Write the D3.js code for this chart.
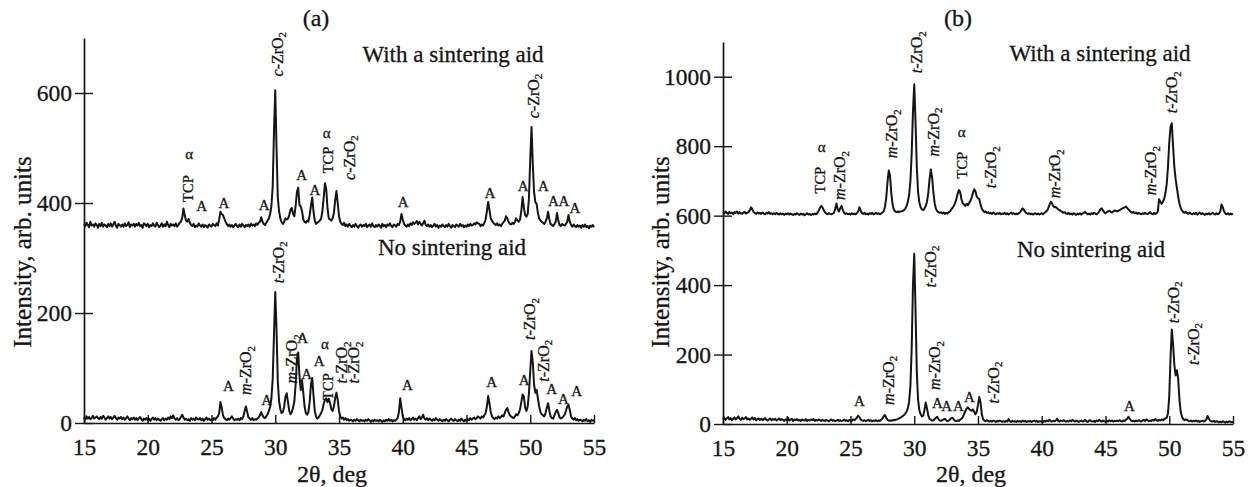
<!DOCTYPE html>
<html>
<head>
<meta charset="utf-8">
<script src="https://cdn.jsdelivr.net/npm/d3@7"></script>
<style>
  body { margin: 0; background: #fff; }
  svg { display: block; }
  svg text { font-family: "Liberation Serif", "Times New Roman", serif !important; fill: #151515;
             stroke: #151515; stroke-width: 0.3px; }
</style>
</head>
<body>
<svg id="chart" width="1251" height="487"></svg>
<script>
// Scan grid: 2θ from 15° to 55° in 0.1° steps
const thetaStart = 15, thetaStep = 0.1;
const xTicks = [15, 20, 25, 30, 35, 40, 45, 50, 55];
const yTicksA = [0, 200, 400, 600];
const yTicksB = [0, 200, 400, 600, 800, 1000];

// (a) with a sintering aid (offset pattern)
const withAidA = [
  362,358,364,360,356,366,359,361,357,363,
  360,355,362,358,364,357,361,359,356,362,
  358,363,357,361,366,359,355,362,360,357,
  361,357,363,358,360,365,356,361,359,362,
  357,362,359,364,358,360,355,363,361,358,
  362,356,360,358,363,359,357,364,360,356,
  359,363,357,361,358,366,360,356,362,359,
  361,358,363,357,360,364,366,372,390,378,
  368,366,371,364,360,358,362,356,359,357,
  363,359,357,361,356,360,358,355,361,359,
  357,362,360,358,363,359,370,384,380,378,
  372,366,362,358,361,357,360,356,359,362,
  358,356,361,357,362,359,356,360,358,361,
  357,362,359,361,358,363,360,364,366,374,
  366,362,360,364,368,372,380,395,430,530,
  605,500,410,385,372,365,362,366,372,370,
  372,378,388,391,380,376,395,420,428,396,
  394,385,370,366,364,368,366,378,395,410,
  385,368,362,364,366,368,372,385,410,436,
  425,390,372,370,368,372,382,405,422,400,
  376,366,362,360,364,358,361,357,362,359,
  356,360,357,362,358,355,359,361,357,360,
  358,362,356,359,361,357,363,358,356,360,
  357,361,359,355,362,358,360,356,361,359,
  363,358,356,361,359,357,362,360,366,380,
  370,362,359,357,361,358,363,360,365,362,
  364,367,361,366,362,359,363,368,360,358,
  361,357,360,356,359,362,357,360,355,359,
  357,361,358,356,360,357,362,358,355,360,
  358,356,361,359,357,362,358,360,356,359,
  357,361,358,362,359,360,363,361,365,363,
  362,358,361,359,364,370,385,402,388,372,
  368,364,362,360,363,359,361,358,362,365,
  368,376,372,366,362,361,364,362,366,372,
  368,366,370,385,411,392,378,375,380,410,
  480,538,470,420,402,398,382,372,368,366,
  364,362,366,372,384,370,362,360,358,362,
  366,382,368,360,358,362,360,359,362,366,
  378,366,360,357,361,358,356,360,357,359,
  355,360,357,361,356,358,354,359,357,360,
  356
];

// (a) no sintering aid
const noAidA = [
  10,6,12,8,11,7,9,13,8,10,
  12,9,7,11,8,13,10,6,9,12,
  8,11,7,10,13,9,6,10,8,11,
  7,10,6,9,12,8,5,9,7,10,
  6,9,5,8,11,7,4,8,6,9,
  5,8,4,7,10,6,9,5,8,6,
  4,7,9,5,8,6,10,7,12,9,
  14,8,6,9,5,7,11,15,10,6,
  8,5,7,4,9,6,8,5,10,7,
  6,9,5,8,4,7,10,6,8,5,
  7,5,9,6,10,12,18,38,28,14,
  9,7,5,8,6,9,12,8,5,7,
  6,8,5,9,7,12,22,30,20,10,
  8,6,9,5,7,6,8,10,14,20,
  14,10,9,12,16,22,30,45,80,160,
  238,170,75,40,25,18,20,30,48,54,
  38,22,16,20,28,40,70,115,128,85,
  60,78,55,30,18,15,20,38,70,82,
  50,22,12,8,10,14,18,24,35,42,
  45,38,44,36,25,22,30,45,55,42,
  22,12,8,10,6,9,5,7,4,6,
  5,3,6,4,7,5,3,6,4,5,
  3,6,4,7,5,2,5,3,6,4,
  5,3,6,4,2,5,3,6,4,7,
  4,6,3,5,4,6,9,20,45,28,
  12,7,5,8,6,9,5,7,10,6,
  8,5,9,12,7,10,15,8,6,9,
  5,8,6,4,7,5,9,6,4,7,
  5,3,6,4,7,5,3,6,8,5,
  4,7,5,3,6,4,8,5,3,6,
  4,7,5,9,6,8,10,7,9,12,
  10,8,12,10,14,18,30,49,36,20,
  12,9,7,10,8,12,9,11,14,12,
  18,24,27,20,14,12,10,9,12,16,
  14,18,25,38,52,48,28,22,30,55,
  95,131,110,70,55,60,45,30,20,16,
  14,12,18,28,36,22,12,9,8,14,
  20,24,18,10,8,10,12,15,22,30,
  33,24,12,8,6,9,5,7,4,6,
  5,3,6,4,7,3,5,2,6,4,
  5
];

// (b) with a sintering aid (offset pattern)
const withAidB = [
  610,606,612,608,605,611,607,609,604,610,
  608,612,606,610,607,605,609,611,606,608,
  610,615,624,618,611,607,605,609,606,608,
  605,609,606,604,608,606,610,605,607,604,
  607,604,608,605,603,607,604,606,602,606,
  604,607,603,606,604,602,605,603,607,604,
  602,606,603,605,601,604,607,603,605,602,
  605,603,606,604,608,614,622,628,624,616,
  610,606,604,607,605,604,606,608,620,635,
  618,612,622,628,616,608,605,607,604,606,
  603,607,604,606,604,607,612,624,614,607,
  605,608,604,606,603,607,605,608,604,606,
  608,605,607,604,606,609,612,625,650,695,
  730,715,665,632,618,612,610,612,610,612,
  612,614,616,620,628,640,660,700,780,900,
  978,870,740,668,638,624,618,616,620,628,
  640,665,705,733,710,668,636,620,613,610,
  608,610,606,609,605,608,606,610,612,618,
  622,628,636,648,662,674,668,648,636,632,
  628,634,630,636,642,652,665,676,670,655,
  650,648,632,620,614,610,612,608,610,606,
  608,605,609,606,604,607,605,608,604,606,
  605,608,604,607,603,606,609,605,607,604,
  606,604,607,610,616,621,617,611,607,605,
  607,604,606,603,605,607,604,606,603,605,
  607,604,608,610,614,620,630,640,636,628,
  624,625,621,618,616,613,611,608,610,606,
  605,608,604,606,603,607,605,602,606,604,
  607,603,606,608,611,607,604,606,603,607,
  605,608,606,604,607,612,618,621,615,610,
  607,610,612,614,611,609,612,615,614,612,
  614,616,618,620,622,624,626,622,618,614,
  610,608,611,607,609,605,608,606,604,607,
  605,608,606,604,607,610,606,604,608,605,
  606,612,647,640,634,640,648,665,690,740,
  810,855,866,800,740,705,680,655,635,622,
  615,610,608,611,607,605,609,606,604,607,
  605,608,603,606,609,604,607,605,602,606,
  604,607,603,606,608,605,603,607,604,606,
  612,632,624,612,606,604,607,603,606,604,
  605
];

// (b) no sintering aid
const noAidB = [
  14,18,12,16,20,13,17,11,15,19,
  13,17,22,15,12,18,14,16,20,13,
  16,12,15,19,13,17,11,14,16,12,
  15,11,14,17,12,10,13,16,11,14,
  12,15,10,13,16,11,14,12,9,13,
  11,18,10,12,15,9,13,11,14,10,
  12,9,13,11,10,14,9,12,10,13,
  11,14,9,12,10,13,11,9,12,10,
  9,12,10,8,11,13,9,11,8,10,
  12,9,11,8,10,13,9,11,8,12,
  10,9,13,11,14,18,24,20,13,10,
  9,11,8,10,12,9,11,8,10,9,
  11,8,10,9,12,15,22,26,18,12,
  10,9,11,10,12,11,13,14,16,18,
  20,23,26,30,36,46,65,110,220,400,
  490,330,150,70,40,28,22,24,40,62,
  45,25,15,12,10,11,14,18,21,14,
  10,9,11,13,15,11,8,10,13,17,
  18,13,9,8,10,9,12,15,20,28,
  36,44,48,44,40,38,42,36,28,35,
  55,78,62,28,14,10,8,11,9,7,
  9,7,10,8,6,9,7,10,8,6,
  8,6,9,7,14,8,6,9,7,8,
  6,9,7,8,6,10,7,9,6,8,
  7,9,6,8,10,7,9,6,8,7,
  8,6,9,7,10,8,12,9,7,9,
  8,10,15,9,7,10,8,11,9,7,
  9,7,10,8,12,9,7,10,8,6,
  8,10,7,9,12,8,6,9,11,8,
  7,9,6,10,8,12,9,7,10,8,
  6,9,7,11,8,10,7,9,8,10,
  8,11,9,7,10,9,12,15,21,15,
  10,8,9,7,10,8,11,9,7,10,
  12,9,13,11,8,10,9,12,10,14,
  11,9,12,10,13,11,14,16,18,30,
  80,190,272,230,170,140,155,130,70,35,
  20,14,11,13,12,9,8,10,7,9,
  8,10,7,9,6,8,10,7,9,12,
  23,16,10,8,7,9,6,8,7,5,
  7,5,8,6,4,7,5,8,6,5,
  6
];

// Phase labels: [2θ, intensity at label foot, text]
const labelsWithAidA = [
  [23.13, 402, "TCP"], [23.25, 480, "α"], [24.23, 385, "A"], [25.98, 391, "A"],
  [29.14, 387, "A"], [30.16, 630, "c-ZrO2"], [32.07, 442, "A"], [33.12, 415, "A"],
  [34.16, 454, "TCP"], [34.03, 518, "α"], [35.81, 442, "c-ZrO2"], [40.04, 393, "A"],
  [46.84, 409, "A"], [49.45, 422, "A"], [50.24, 554, "c-ZrO2"], [51.03, 422, "A"],
  [51.82, 395, "A"], [52.65, 395, "A"], [53.51, 382, "A"]
];
const labelsNoAidA = [
  [26.32, 58, "A"], [27.71, 51, "m-ZrO2"], [29.33, 33, "A"], [30.24, 254, "t-ZrO2"],
  [31.29, 72, "m-ZrO2"], [32.15, 145, "A"], [32.46, 80, "A"], [33.45, 104, "A"],
  [34.16, 42, "TCP"], [33.9, 135, "α"], [35.21, 72, "t-ZrO2"], [36.18, 72, "t-ZrO2"],
  [40.36, 60, "A"], [46.97, 65, "A"], [49.53, 69, "A"], [49.98, 151, "t-ZrO2"],
  [51.03, 75, "t-ZrO2"], [51.68, 53, "A"], [52.6, 35, "A"], [53.64, 49, "A"]
];
const labelsWithAidB = [
  [22.61, 664, "TCP"], [22.74, 783, "α"], [24.18, 645, "m-ZrO2"], [28.23, 765, "m-ZrO2"],
  [30.19, 1010, "t-ZrO2"], [31.5, 770, "m-ZrO2"], [33.72, 707, "TCP"], [33.72, 826, "α"],
  [36.0, 679, "t-ZrO2"], [41.04, 650, "m-ZrO2"], [48.55, 659, "m-ZrO2"], [50.19, 895, "t-ZrO2"]
];
const labelsNoAidB = [
  [25.69, 52, "A"], [27.96, 55, "m-ZrO2"], [31.24, 393, "t-ZrO2"], [31.63, 98, "m-ZrO2"],
  [31.81, 46, "A"], [32.55, 37, "A"], [33.46, 37, "A"], [34.32, 63, "A"],
  [36.2, 59, "t-ZrO2"], [46.87, 37, "A"], [50.32, 290, "t-ZrO2"], [51.89, 170, "t-ZrO2"]
];

const serif = "'Liberation Serif', 'Times New Roman', serif";
const svg = d3.select("#chart").attr("font-family", serif);
const ink = "#151515";

const panels = [
  { tag: "(a)", tagX: 316, left: 84, right: 594, top: 38, bottom: 423, yMax: 700, yTicks: yTicksA,
    series: [withAidA, noAidA], labels: [labelsWithAidA, labelsNoAidA],
    captionTop: [453, 62], captionBottom: [452, 255], titleX: 31 },
  { tag: "(b)", tagX: 958, left: 723, right: 1233, top: 42, bottom: 424, yMax: 1100, yTicks: yTicksB,
    series: [withAidB, noAidB], labels: [labelsWithAidB, labelsNoAidB],
    captionTop: [1100, 61], captionBottom: [1091, 257], titleX: 669 }
];

function drawLabel(g, x, y, d) {
  const [theta, v, txt] = d;
  const px = x(theta), py = y(v);
  const phase = /^([cmt])-ZrO2$/.exec(txt);
  if (phase || txt === "TCP") {
    const fs = phase ? 16 : 14.5;
    const t = g.append("text")
      .attr("font-size", fs)
      .attr("transform", `translate(${px + fs * 0.34},${py}) rotate(-90)`);
    if (phase) {
      t.append("tspan").attr("font-style", "italic").text(phase[1]);
      t.append("tspan").text("-ZrO");
      t.append("tspan").attr("font-size", fs * 0.68).attr("dy", fs * 0.22).text("2");
    } else {
      t.text(txt);
    }
  } else {
    g.append("text")
      .attr("x", px).attr("y", py)
      .attr("text-anchor", "middle")
      .attr("font-size", 15)
      .text(txt);
  }
}

panels.forEach(p => {
  const x = d3.scaleLinear().domain([15, 55]).range([p.left, p.right]);
  const y = d3.scaleLinear().domain([0, p.yMax]).range([p.bottom, p.top]);
  const g = svg.append("g");

  // Diffraction patterns
  const line = d3.line()
    .x((d, i) => x(thetaStart + i * thetaStep))
    .y(d => y(d));
  p.series.forEach(s => {
    g.append("path")
      .datum(s)
      .attr("d", line)
      .attr("fill", "none")
      .attr("stroke", ink)
      .attr("stroke-width", 2)
      .attr("stroke-linejoin", "round");
  });

  // Axes
  const xAxis = g.append("g").attr("transform", `translate(0,${p.bottom})`)
    .call(d3.axisBottom(x).tickValues(xTicks).tickFormat(d3.format("d"))
      .tickSizeInner(-8).tickSizeOuter(0).tickPadding(16));
  const yAxis = g.append("g").attr("transform", `translate(${p.left},0)`)
    .call(d3.axisLeft(y).tickValues(p.yTicks).tickFormat(d3.format("d"))
      .tickSizeOuter(0).tickSize(0).tickPadding(12));
  yAxis.selectAll(".tick").append("line")
    .attr("x1", -9).attr("x2", 9);
  [xAxis, yAxis].forEach(a => {
    a.attr("font-family", serif);
    a.select(".domain").attr("stroke", ink).attr("stroke-width", 1.7);
    a.selectAll(".tick line").attr("stroke", ink).attr("stroke-width", 1.4);
    a.selectAll(".tick text").attr("font-size", 23.5).attr("fill", ink);
  });
  xAxis.selectAll(".tick text").attr("dy", "0.68em");

  // Titles
  g.append("text")
    .attr("x", p.tagX).attr("y", 26)
    .attr("text-anchor", "middle").attr("font-size", 24)
    .text(p.tag);
  g.append("text")
    .attr("x", p.captionTop[0]).attr("y", p.captionTop[1])
    .attr("text-anchor", "middle").attr("font-size", 23)
    .text("With a sintering aid");
  g.append("text")
    .attr("x", p.captionBottom[0]).attr("y", p.captionBottom[1])
    .attr("text-anchor", "middle").attr("font-size", 23)
    .text("No sintering aid");
  g.append("text")
    .attr("transform", `translate(${p.titleX},252) rotate(-90)`)
    .attr("text-anchor", "middle").attr("font-size", 25)
    .text("Intensity, arb. units");
  g.append("text")
    .attr("x", x(34.45)).attr("y", 482)
    .attr("text-anchor", "middle").attr("font-size", 24)
    .text("2θ, deg");

  // Peak assignments
  p.labels.forEach(set => set.forEach(d => drawLabel(g, x, y, d)));
});
</script>
</body>
</html>
